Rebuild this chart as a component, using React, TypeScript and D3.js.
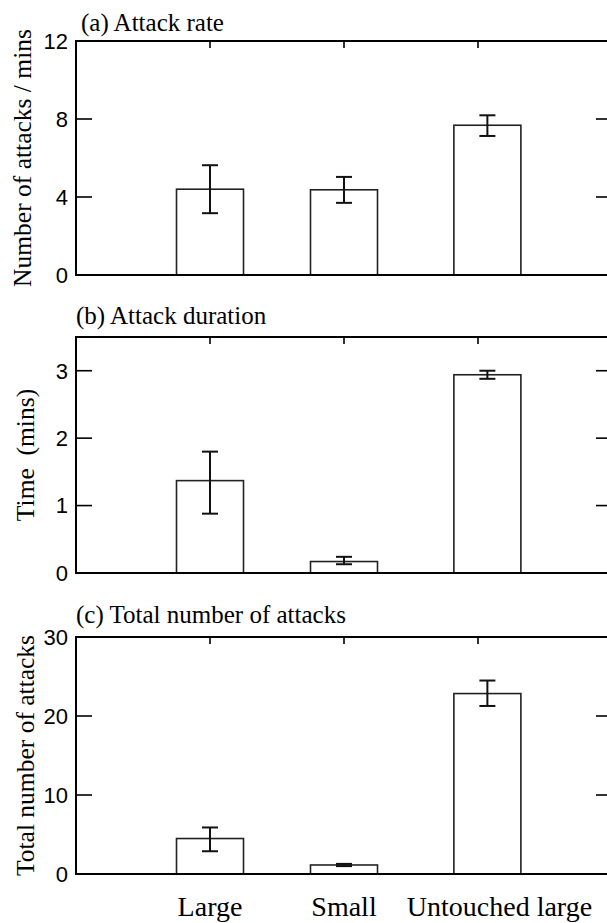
import React, { useEffect, useRef } from 'react'
import * as d3 from 'd3'

const WIDTH = 607
const HEIGHT = 923

const categories = ['Large', 'Small', 'Untouched large']
const barPos = [1, 2, 3.07]
const labelPos = [1, 2, 3.16]
const catTicks = [1, 2, 3]

// (a) attack rate
const rateMean = [4.4, 4.37, 7.68]
const rateLow = [3.17, 3.7, 7.13]
const rateHigh = [5.63, 5.03, 8.19]
const rateTicks = [0, 4, 8, 12]

// (b) attack duration
const durMean = [1.37, 0.17, 2.94]
const durLow = [0.88, 0.13, 2.88]
const durHigh = [1.8, 0.24, 3.0]
const durTicks = [0, 1, 2, 3]

// (c) total number of attacks
const totMean = [4.49, 1.14, 22.84]
const totLow = [2.88, 1.0, 21.27]
const totHigh = [5.89, 1.28, 24.49]
const totTicks = [0, 10, 20, 30]

const panels = [
  { title: '(a) Attack rate', titleX: 81, titleY: 31, yLabel: 'Number of attacks / mins', yLabelX: 22, top: 41, bottom: 275, max: 12, ticks: rateTicks, mean: rateMean, low: rateLow, high: rateHigh },
  { title: '(b) Attack duration', titleX: 76, titleY: 324, yLabel: 'Time  (mins)', yLabelX: 25, top: 337, bottom: 573, max: 3.5, ticks: durTicks, mean: durMean, low: durLow, high: durHigh },
  { title: '(c) Total number of attacks', titleX: 76, titleY: 623, yLabel: 'Total number of attacks', yLabelX: 25, top: 637, bottom: 874, max: 30, ticks: totTicks, mean: totMean, low: totLow, high: totHigh }
]

const SERIF = '"Liberation Serif", "Times New Roman", serif'
const SANS = '"Liberation Sans", Arial, sans-serif'

const App = () => {
  const ref = useRef<SVGSVGElement>(null)

  useEffect(() => {
    const svg = d3.select(ref.current)
    svg.selectAll('*').remove()

    const x = d3.scaleLinear().domain([0, 4]).range([76, 612])
    const barW = x(0.5) - x(0)

    panels.forEach(p => {
      const y = d3.scaleLinear().domain([0, p.max]).range([p.bottom, p.top])
      const g = svg.append('g')

      // bars
      g.selectAll('rect.bar')
        .data(p.mean)
        .enter()
        .append('rect')
        .attr('x', (d, i) => x(barPos[i]) - barW / 2)
        .attr('y', d => y(d))
        .attr('width', barW)
        .attr('height', d => y(0) - y(d))
        .attr('fill', 'white')
        .attr('stroke', '#222')
        .attr('stroke-width', 1.6)

      // error bars
      const eb = g.selectAll('g.err').data(p.mean).enter().append('g')
      eb.append('line')
        .attr('x1', (d, i) => x(barPos[i]))
        .attr('x2', (d, i) => x(barPos[i]))
        .attr('y1', (d, i) => y(p.low[i]))
        .attr('y2', (d, i) => y(p.high[i]))
      eb.append('line')
        .attr('x1', (d, i) => x(barPos[i]) - 8)
        .attr('x2', (d, i) => x(barPos[i]) + 8)
        .attr('y1', (d, i) => y(p.low[i]))
        .attr('y2', (d, i) => y(p.low[i]))
      eb.append('line')
        .attr('x1', (d, i) => x(barPos[i]) - 8)
        .attr('x2', (d, i) => x(barPos[i]) + 8)
        .attr('y1', (d, i) => y(p.high[i]))
        .attr('y2', (d, i) => y(p.high[i]))
      eb.selectAll('line').attr('stroke', '#111').attr('stroke-width', 2)

      // frame (right edge falls outside the picture)
      g.append('path')
        .attr('d', `M${x(4)},${y(p.max)}H${x(0)}V${y(0)}H${x(4)}`)
        .attr('fill', 'none')
        .attr('stroke', 'black')
        .attr('stroke-width', 2)

      // y ticks, inside on both sides
      p.ticks.forEach(t => {
        g.append('line').attr('x1', x(0)).attr('x2', x(0) + 16).attr('y1', y(t)).attr('y2', y(t))
          .attr('stroke', 'black').attr('stroke-width', 1.6)
        g.append('line').attr('x1', x(4) - 16).attr('x2', x(4)).attr('y1', y(t)).attr('y2', y(t))
          .attr('stroke', 'black').attr('stroke-width', 1.6)
        g.append('text')
          .attr('x', 68)
          .attr('y', y(t))
          .attr('dy', '0.36em')
          .attr('text-anchor', 'end')
          .attr('font-family', SANS)
          .attr('font-size', 22)
          .text(t)
      })

      // category ticks on top
      catTicks.forEach(c => {
        g.append('line').attr('x1', x(c)).attr('x2', x(c)).attr('y1', y(p.max)).attr('y2', y(p.max) + 7)
          .attr('stroke', 'black').attr('stroke-width', 1.6)
      })

      g.append('text')
        .attr('x', p.titleX)
        .attr('y', p.titleY)
        .attr('font-family', SERIF)
        .attr('font-size', 25)
        .text(p.title)

      g.append('text')
        .attr('transform', `translate(${p.yLabelX},${(p.top + p.bottom) / 2}) rotate(-90)`)
        .attr('text-anchor', 'middle')
        .attr('dy', '0.35em')
        .attr('font-family', SERIF)
        .attr('font-size', 25.5)
        .style('white-space', 'pre')
        .text(p.yLabel)
    })

    svg.selectAll('text.cat')
      .data(categories)
      .enter()
      .append('text')
      .attr('x', (d, i) => x(labelPos[i]))
      .attr('y', 916)
      .attr('text-anchor', 'middle')
      .attr('font-family', SERIF)
      .attr('font-size', 28)
      .text(d => d)
  }, [])

  return (
    <svg
      ref={ref}
      width={WIDTH}
      height={HEIGHT}
      style={{ position: 'absolute', left: 0, top: 0, background: 'white' }}
    />
  )
}

export default App
